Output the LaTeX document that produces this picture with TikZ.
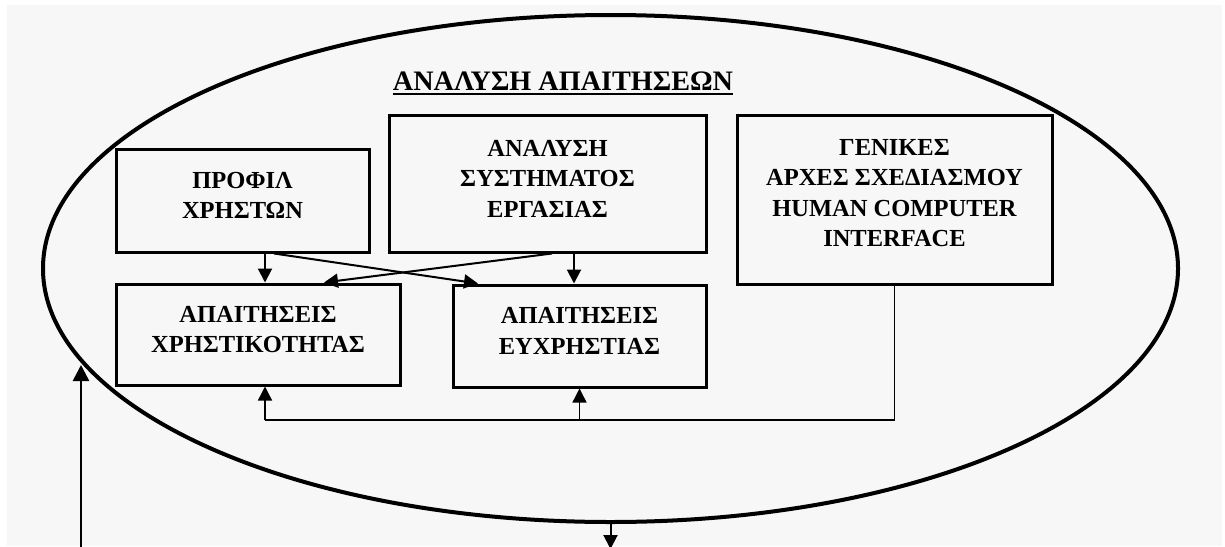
\documentclass[tikz,border=0pt]{standalone}
\usepackage{fontspec}
\setmainfont{Liberation Serif}
\usetikzlibrary{arrows.meta,shapes.geometric,calc}
\definecolor{pagebg}{HTML}{F7F7F7}
\newcommand{\boxfont}{\fontsize{12.25pt}{15.25pt}\selectfont\bfseries}
\newcommand{\headfont}{\fontsize{14.1pt}{16pt}\selectfont\bfseries}
\tikzset{
  ar/.style={-{Triangle[length=7pt,width=7pt]},line width=1pt},
  fbar/.style={-{Triangle[length=7pt,width=7pt]},line width=0.7pt},
  box/.style={draw,line width=1.5pt,align=center,inner sep=0pt,text depth=5pt,font=\boxfont}
}

\begin{document}
\begin{tikzpicture}[x=0.5pt,y=-0.5pt]
\useasboundingbox (0,0) rectangle (1225,546);
\fill[pagebg] (7,5) rectangle (1222,546);
% outer region
\node[ellipse,draw,line width=2pt,inner sep=0pt,minimum width=567.5pt,minimum height=253.5pt] (req) at (610.5,268.5) {};
\node[font=\headfont,inner sep=0pt,anchor=base] (title) at (563,90) {ΑΝΑΛΥΣΗ ΑΠΑΙΤΗΣΕΩΝ};
\draw[line width=1pt] ([yshift=-1.9pt]title.base west) -- ([yshift=-1.9pt]title.base east);
% boxes
\node[box,minimum width=126.5pt,minimum height=51.5pt] (prof) at (242.5,200.5) {ΠΡΟΦΙΛ\\ΧΡΗΣΤΩΝ};
\node[box,minimum width=158.5pt,minimum height=68.5pt] (anal) at (547.5,183.5) {ΑΝΑΛΥΣΗ\\ΣΥΣΤΗΜΑΤΟΣ\\ΕΡΓΑΣΙΑΣ};
\node[box,minimum width=157.5pt,minimum height=84.5pt,text depth=6.5pt] (gen) at (894.5,199.5) {ΓΕΝΙΚΕΣ\\ΑΡΧΕΣ ΣΧΕΔΙΑΣΜΟΥ\\HUMAN COMPUTER\\INTERFACE};
\node[box,minimum width=142pt,minimum height=50.5pt] (xrhst) at (258,334.5) {ΑΠΑΙΤΗΣΕΙΣ\\ΧΡΗΣΤΙΚΟΤΗΤΑΣ};
\node[box,minimum width=126.5pt,minimum height=51pt] (eyxr) at (579.5,336) {ΑΠΑΙΤΗΣΕΙΣ\\ΕΥΧΡΗΣΤΙΑΣ};
% connectors
\draw[ar] (prof.south -| 265,0) -- (xrhst.north -| 265,0);
\draw[ar] (prof.south -| 274,0) -- (eyxr.north -| 478,0);
\draw[ar] (anal.south -| 552,0) -- (xrhst.north -| 324,0);
\draw[ar] (anal.south -| 574,0) -- (eyxr.north -| 574,0);
\coordinate (fb) at (265,420);
\draw[line width=0.7pt] (gen.south) |- (fb);
\draw[fbar] (fb) -- (fb |- xrhst.south);
\draw[fbar] (fb -| eyxr.south) -- (eyxr.south);
\coordinate (out) at (610.5,549);
\draw[ar] (req.south) -- (out);
\coordinate (infoot) at (81,560);
\coordinate (intip) at (81,365);
\draw[-{Triangle[length=8pt,width=8pt]},line width=1.3pt] (infoot) -- (intip);
\end{tikzpicture}
\end{document}
